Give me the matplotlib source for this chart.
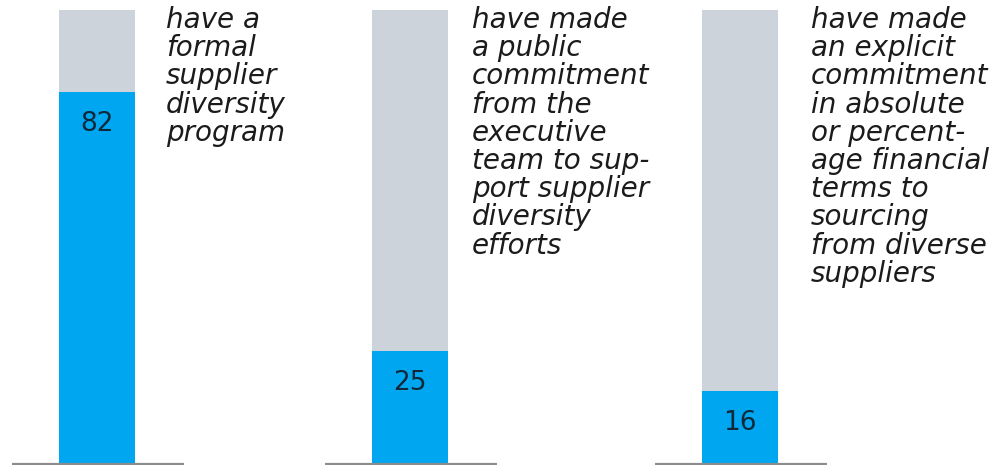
import matplotlib
matplotlib.use("Agg")
import matplotlib.pyplot as plt

# data
values = [82, 25, 16]
labels = [
    "have a\nformal\nsupplier\ndiversity\nprogram",
    "have made\na public\ncommitment\nfrom the\nexecutive\nteam to sup-\nport supplier\ndiversity\nefforts",
    "have made\nan explicit\ncommitment\nin absolute\nor percent-\nage financial\nterms to\nsourcing\nfrom diverse\nsuppliers",
]
total = 100

# layout (pixel-based x positions)
centers = [97, 409.5, 739.5]
bar_w = 76
text_x = [166, 472, 811]

BLUE = "#00A6EF"
GRAY = "#CDD3DA"
LINE = "#8C8C8C"
NUM = "#10293A"
TXT = "#1B1B1B"

fig = plt.figure(figsize=(10.08, 4.65), dpi=100)
ax = fig.add_axes([0, 1 / 465, 1, 454 / 465])
ax.set_xlim(0, 1008)
ax.set_ylim(0, 100)
ax.axis("off")

for c, v, lab, tx in zip(centers, values, labels, text_x):
    ax.bar(c, total, width=bar_w, color=GRAY, linewidth=0)
    ax.bar(c, v, width=bar_w, color=BLUE, linewidth=0)
    ax.hlines(0, c - 85, c + 87, color=LINE, lw=1.6, clip_on=False, zorder=3)
    ax.annotate(str(v), xy=(c, v), xytext=(0, -19), textcoords="offset pixels",
                ha="center", va="top", fontsize=19, color=NUM,
                family="DejaVu Sans")
    ax.text(tx, 100.9, lab, ha="left", va="top", fontsize=20,
            style="italic", color=TXT, family="DejaVu Sans",
            linespacing=1.01, clip_on=False)

fig.savefig("out.png", dpi=100)
